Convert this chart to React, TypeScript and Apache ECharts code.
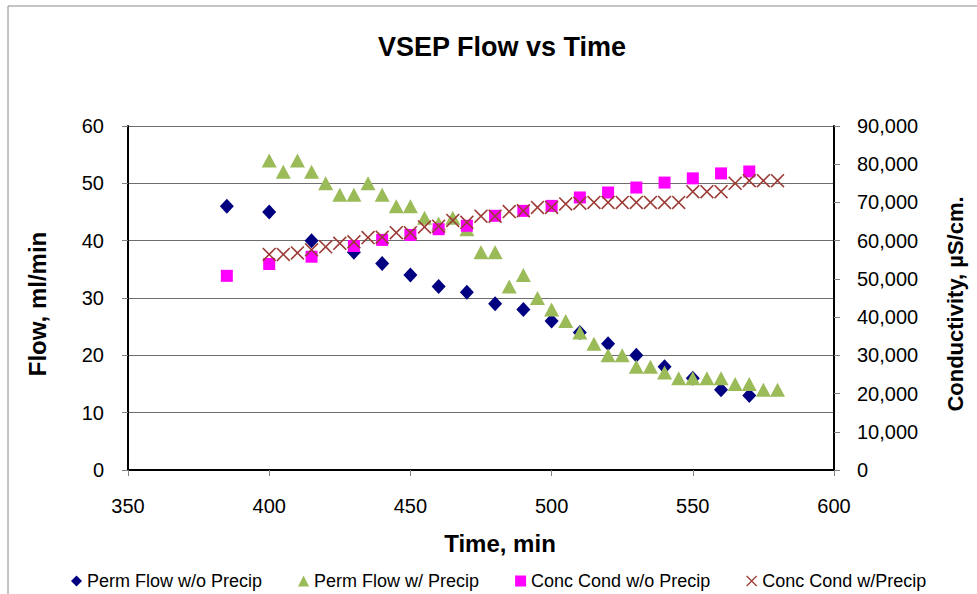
import React, { useEffect, useRef } from "react";
import * as echarts from "echarts";

const FONT = '"Liberation Sans", Arial, Helvetica, sans-serif';

const chartTitle = "VSEP Flow vs Time";
const xAxisName = "Time, min";
const leftAxisName = "Flow, ml/min";
const rightAxisName = "Conductivity, µS/cm.";

const seriesNames = [
  "Perm Flow w/o Precip",
  "Perm Flow w/ Precip",
  "Conc Cond w/o Precip",
  "Conc Cond w/Precip",
];

// Perm Flow w/o Precip (ml/min) and Conc Cond w/o Precip (µS/cm) share these times
const timeNoPrecip = [385, 400, 415, 430, 440, 450, 460, 470, 480, 490, 500, 510, 520, 530, 540, 550, 560, 570];
const permFlowNoPrecip = [46, 45, 40, 38, 36, 34, 32, 31, 29, 28, 26, 24, 22, 20, 18, 16, 14, 13];
const concCondNoPrecip = [
  50800, 53900, 55800, 58600, 60200, 61500, 63000, 63900, 66500, 67800, 69100, 71300, 72600, 73900, 75200,
  76300, 77600, 78100,
];

// Perm Flow w/ Precip and Conc Cond w/Precip share these times
const timePrecip = [
  400, 405, 410, 415, 420, 425, 430, 435, 440, 445, 450, 455, 460, 465, 470, 475, 480, 485, 490, 495, 500, 505,
  510, 515, 520, 525, 530, 535, 540, 545, 550, 555, 560, 565, 570, 575, 580,
];
const permFlowPrecip = [
  54, 52, 54, 52, 50, 48, 48, 50, 48, 46, 46, 44, 43, 44, 42, 38, 38, 32, 34, 30, 28, 26, 24, 22, 20, 20, 18, 18,
  17, 16, 16, 16, 16, 15, 15, 14, 14,
];
const concCondPrecip = [
  56400, 56400, 56800, 57600, 58400, 59300, 59700, 60800, 60900, 62100, 62100, 63600, 63800, 65300, 64800, 66400,
  66400, 67600, 67800, 68700, 68700, 69600, 69800, 70000, 70000, 70000, 70000, 70000, 70000, 70000, 72800, 72800,
  72800, 75000, 75700, 75700, 75700,
];

const xMin = 350;
const xMax = 600;
const xStep = 50;
const leftMax = 60;
const leftStep = 10;
const rightMax = 90000;
const rightStep = 10000;

const pair = (xs: number[], ys: number[]) => xs.map((x, i) => [x, ys[i]]);

const X_SYMBOL =
  "path://M0,8L8,0L50,42L92,0L100,8L58,50L100,92L92,100L50,58L8,100L0,92L42,50Z";

export default function App() {
  const ref = useRef<HTMLDivElement>(null);

  useEffect(() => {
    if (!ref.current) return;
    const chart = echarts.init(ref.current, undefined, { renderer: "svg" });
    const tickLabel = { color: "#000", fontSize: 20, fontFamily: FONT };
    chart.setOption({
      animation: false,
      backgroundColor: "#fff",
      textStyle: { fontFamily: FONT },
      grid: { left: 128, top: 126, right: 143, bottom: 124, containLabel: false, outerBoundsMode: "none" },
      graphic: [
        {
          type: "rect",
          shape: { x: 8, y: 6, width: 1000, height: 700 },
          style: { fill: "none", stroke: "#8a8a8a", lineWidth: 1 },
          silent: true,
        },
        {
          type: "text",
          x: 502,
          y: 47,
          style: {
            text: chartTitle,
            fontSize: 27,
            fontWeight: "bold",
            fontFamily: FONT,
            fill: "#000",
            textAlign: "center",
            textVerticalAlign: "middle",
          },
        },
        {
          type: "text",
          x: 500,
          y: 543,
          style: {
            text: xAxisName,
            fontSize: 24,
            fontWeight: "bold",
            fontFamily: FONT,
            fill: "#000",
            textAlign: "center",
            textVerticalAlign: "middle",
          },
        },
        {
          type: "text",
          x: 37,
          y: 304,
          rotation: Math.PI / 2,
          style: {
            text: leftAxisName,
            fontSize: 24,
            fontWeight: "bold",
            fontFamily: FONT,
            fill: "#000",
            textAlign: "center",
            textVerticalAlign: "middle",
          },
        },
        {
          type: "text",
          x: 955,
          y: 304,
          rotation: Math.PI / 2,
          style: {
            text: rightAxisName,
            fontSize: 22,
            fontWeight: "bold",
            fontFamily: FONT,
            fill: "#000",
            textAlign: "center",
            textVerticalAlign: "middle",
          },
        },
      ],
      legend: {
        left: 66,
        top: 567,
        itemWidth: 11,
        itemHeight: 11,
        itemGap: 36,
        textStyle: { color: "#000", fontSize: 18, fontFamily: FONT },
        data: seriesNames,
      },
      xAxis: {
        type: "value",
        min: xMin,
        max: xMax,
        interval: xStep,
        axisLine: { show: true, lineStyle: { color: "#000", width: 2 } },
        axisTick: { show: true, inside: false, length: 6, lineStyle: { color: "#808080" } },
        axisLabel: { ...tickLabel, margin: 26 },
        splitLine: { show: false },
      },
      yAxis: [
        {
          type: "value",
          position: "left",
          min: 0,
          max: leftMax,
          interval: leftStep,
          axisLine: { show: true, lineStyle: { color: "#000", width: 2 } },
          axisTick: { show: true, inside: false, length: 6, lineStyle: { color: "#808080" } },
          axisLabel: { ...tickLabel, margin: 24 },
          splitLine: { show: true, lineStyle: { color: "#6e6e6e", width: 1 } },
        },
        {
          type: "value",
          position: "right",
          min: 0,
          max: rightMax,
          interval: rightStep,
          axisLine: { show: true, lineStyle: { color: "#000", width: 2 } },
          axisTick: { show: true, inside: false, length: 6, lineStyle: { color: "#808080" } },
          axisLabel: {
            ...tickLabel,
            margin: 23,
            formatter: (v: number) => v.toLocaleString("en-US"),
          },
          splitLine: { show: false },
        },
      ],
      series: [
        {
          name: seriesNames[0],
          type: "scatter",
          yAxisIndex: 0,
          symbol: "diamond",
          symbolSize: [14, 15],
          itemStyle: { color: "#000080", opacity: 1 },
          data: pair(timeNoPrecip, permFlowNoPrecip),
        },
        {
          name: seriesNames[1],
          type: "scatter",
          yAxisIndex: 0,
          symbol: "triangle",
          symbolSize: [15, 14],
          itemStyle: { color: "#9BBB59", opacity: 1 },
          data: pair(timePrecip, permFlowPrecip),
        },
        {
          name: seriesNames[2],
          type: "scatter",
          yAxisIndex: 1,
          symbol: "rect",
          symbolSize: 12,
          itemStyle: { color: "#FF00FF", opacity: 1 },
          data: pair(timeNoPrecip, concCondNoPrecip),
        },
        {
          name: seriesNames[3],
          type: "scatter",
          yAxisIndex: 1,
          symbol: X_SYMBOL,
          symbolSize: 14,
          itemStyle: { color: "#9B3B36", opacity: 1 },
          data: pair(timePrecip, concCondPrecip),
        },
      ],
    });
    return () => chart.dispose();
  }, []);

  return (
    <div
      ref={ref}
      style={{ position: "absolute", left: 0, top: 0, width: 977, height: 594 }}
    />
  );
}
